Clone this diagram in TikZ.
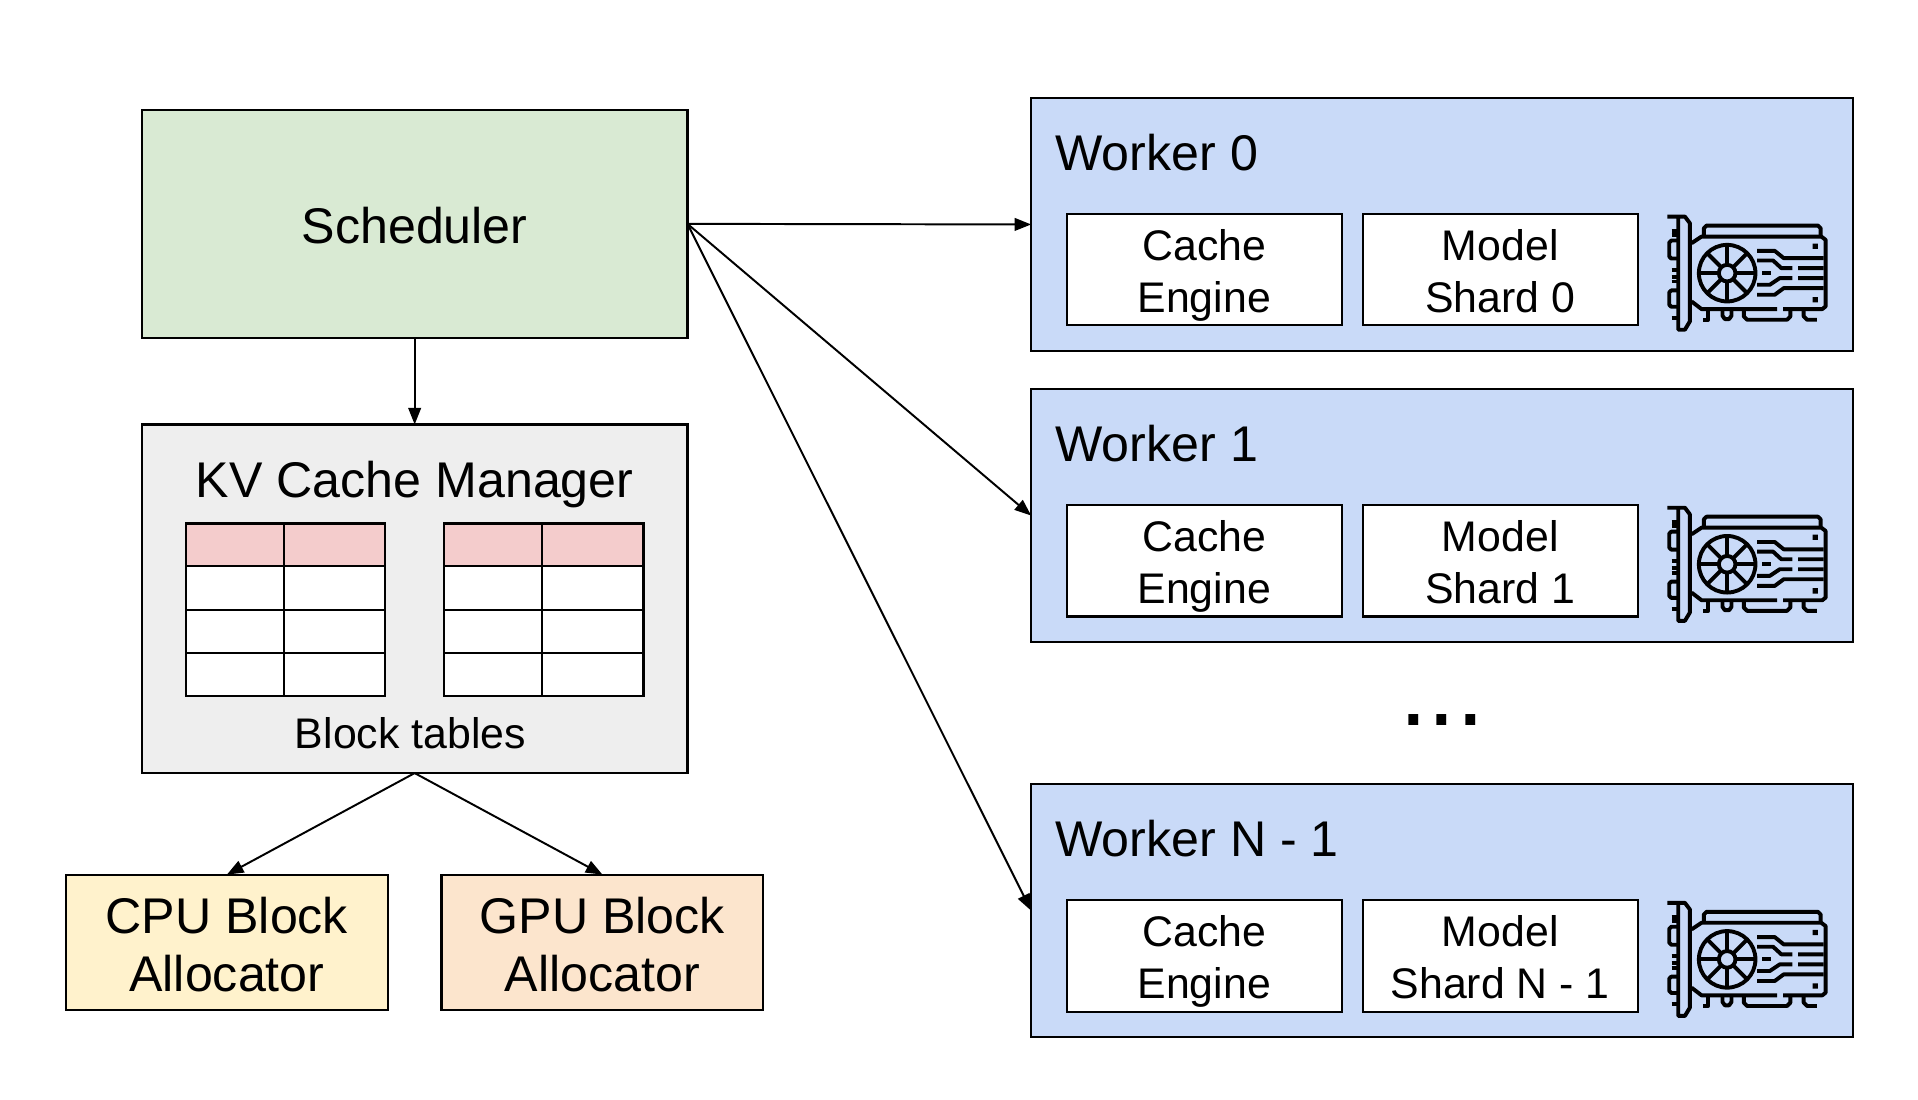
\documentclass[tikz,border=0pt]{standalone}
\usepackage{fontspec}
\setmainfont{Liberation Sans}
\usetikzlibrary{arrows.meta}
\definecolor{schedgreen}{HTML}{D9EAD3}
\definecolor{kvgray}{HTML}{EEEEEE}
\definecolor{cpuyellow}{HTML}{FFF2CC}
\definecolor{gpuorange}{HTML}{FCE5CD}
\definecolor{workerblue}{HTML}{C9DAF8}
\definecolor{headerpink}{HTML}{F4CCCC}
\tikzset{
  box/.style={draw, line width=0.9pt, inner sep=0pt, outer sep=0pt, align=center},
  bigtext/.style={font=\fontsize{20.5}{24}\selectfont},
  smalltext/.style={font=\fontsize{17.5}{21}\selectfont},
  conn/.style={-{Triangle[length=6.8pt,width=5.2pt]}, line width=0.8pt},
  tablerule/.style={line width=0.9pt},
  worker/.style={box, fill=workerblue, minimum width=336pt, minimum height=103.5pt},
  part/.style={box, smalltext, fill=white, minimum width=112.5pt, minimum height=45.5pt,
    text height=38.6pt, text depth=4pt},
  alloc/.style={box, bigtext, minimum width=131.5pt, minimum height=55.5pt,
    text height=40.4pt, text depth=0pt},
  gpu/.pic={
    \begin{scope}[x=0.136pt, y=-0.136pt, line width=1.6pt, line join=round]
    %bracket
    \draw (82,80) -- (135,80) -- (150,100) -- (150,395) -- (135,420) -- (115,420) -- (115,85);
    \draw (95,122) -- (115,122) (95,135) -- (115,135) (95,240) -- (115,240) (95,262) -- (115,262);
    \draw (95,275) -- (115,275) (95,385) -- (115,385);
    \draw (115,152) -- (94,152) -- (88,158) -- (88,200) -- (94,206) -- (115,206);
    \draw (115,302) -- (94,302) -- (88,308) -- (88,345) -- (94,351) -- (115,351);
    %card
    \draw (155,160) -- (185,140) -- (545,140) -- (558,150) -- (558,350) -- (548,358) -- (430,358);
    \draw (412,358) -- (185,358) -- (155,335);
    \draw (192,135) -- (192,115) -- (200,107) -- (535,107) -- (543,115) -- (543,135);
    %fan
    \draw (262,250) circle (85);
    \draw (262,250) circle (25);
    \draw (262,225) -- (262,165) (262,275) -- (262,335) (237,250) -- (177,250) (287,250) -- (347,250);
    \draw (244,232) -- (202,190) (280,232) -- (322,190) (244,268) -- (202,310) (280,268) -- (322,310);
    %traces
    \draw (352,183) -- (405,183) -- (432,205) -- (552,205);
    \draw (352,212) -- (400,212) -- (425,235) -- (458,235) (475,235) -- (552,235);
    \draw (368,250) -- (395,250);
    \draw (352,285) -- (390,285) -- (420,265) -- (458,265) (475,265) -- (552,265);
    \draw (352,315) -- (405,315) -- (432,295) -- (552,295);
    \fill (519,161) rectangle (535,177) (519,322) rectangle (535,338);
    %pins
    \draw (205,358) -- (205,390) -- (188,390);
    \draw (248,358) -- (248,378) -- (255,388) -- (268,388) -- (275,378) -- (275,358);
    \draw (312,358) -- (312,380) -- (322,390) -- (442,390) -- (452,380) -- (452,358);
    \draw (492,358) -- (492,380) -- (502,390) -- (532,390);
    \end{scope}
  }
}
\begin{document}
\begin{tikzpicture}[x=0.5pt, y=-0.5pt]
\useasboundingbox (0,0) rectangle (1568,899);
\newcommand{\wkx}{1179}
\newcommand{\camx}{984.5}
\newcommand{\modx}{1226.5}
\newcommand{\txtx}{862.5}
\newcommand{\gpux}{1340.7}

%left column
\node (sched) [box, bigtext, fill=schedgreen, minimum width=223pt, minimum height=93pt, text height=16pt, text depth=0pt] at (339,183) {Scheduler};
\node (kvmgr) [box, fill=kvgray, minimum width=223pt, minimum height=142.5pt] at (339,489.5) {};
\node (kvtitle) [bigtext] at (339,396) {KV Cache Manager};
\node (blocklabel) [smalltext] at (335.5,599) {Block tables};
\node (cpualloc) [alloc, fill=cpuyellow] at (185.5,770.5) {CPU Block\\Allocator};
\node (gpualloc) [alloc, fill=gpuorange] at (492.5,770.5) {GPU Block\\Allocator};

%block tables
\newcommand{\blocktable}[1]{
\fill [headerpink] (#1,428) rectangle (#1+163,463);
\fill [white] (#1,463) rectangle (#1+163,569);
\draw [tablerule] (#1,428) rectangle (#1+163,569);
\draw [tablerule] (#1+80,428) -- (#1+80,569);
\draw [tablerule] (#1,463) -- (#1+163,463);
\draw [tablerule] (#1,498.5) -- (#1+163,498.5);
\draw [tablerule] (#1,534) -- (#1+163,534);
}
\blocktable{152}
\blocktable{363}

%workers
\node (wk0) [worker] at (\wkx,183.5) {};
\node (wk0title) [bigtext, anchor=base west, inner sep=0pt] at (\txtx,139) {Worker 0};
\node (cache0) [part] at (\camx,220.5) {Cache\\Engine};
\node (model0) [part] at (\modx,220.5) {Model\\Shard 0};
\pic at (\gpux,155.3) {gpu};

\node (wk1) [worker] at (\wkx,421.5) {};
\node (wk1title) [bigtext, anchor=base west, inner sep=0pt] at (\txtx,377) {Worker 1};
\node (cache1) [part] at (\camx,458.5) {Cache\\Engine};
\node (model1) [part] at (\modx,458.5) {Model\\Shard 1};
\pic at (\gpux,393.3) {gpu};

\node (dots) [font=\fontsize{42}{42}\selectfont] at (\wkx,589) {...};

\node (wkn) [worker] at (\wkx,744.5) {};
\node (wkntitle) [bigtext, anchor=base west, inner sep=0pt] at (\txtx,700) {Worker N - 1};
\node (cachen) [part] at (\camx,781.5) {Cache\\Engine};
\node (modeln) [part] at (\modx,781.5) {Model\\Shard N - 1};
\pic at (\gpux,716.3) {gpu};

%connectors
\draw [conn] (sched.south) -- (kvmgr.north);
\draw [conn] (sched.east) -- (wk0.west);
\draw [conn] (sched.east) -- (wk1.west);
\draw [conn] (sched.east) -- (wkn.west);
\draw [conn] (kvmgr.south) -- (cpualloc.north);
\draw [conn] (kvmgr.south) -- (gpualloc.north);
\end{tikzpicture}
\end{document}
